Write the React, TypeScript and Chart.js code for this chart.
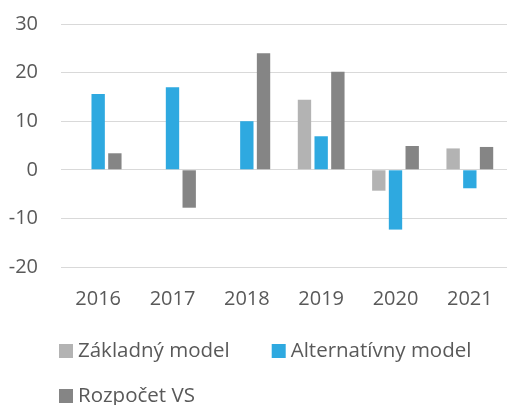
import React, { useEffect, useRef } from "react";
import { Chart, registerables } from "chart.js";

Chart.register(...registerables);

const categories = ["2016", "2017", "2018", "2019", "2020", "2021"];
const zakladnyModel = [null, null, null, 14.4, -4.3, 4.4];
const alternativnyModel = [15.6, 17.0, 10.0, 6.9, -12.3, -3.8];
const rozpocetVS = [3.4, -7.8, 24.0, 20.2, 4.9, 4.7];
const seriesNames = ["Základný model", "Alternatívny model", "Rozpočet VS"];
const yMin = -20;
const yMax = 30;
const yStep = 10;

const FONT = "'Open Sans', 'Noto Sans', sans-serif";
const TEXT = "#595959";
const COLORS = ["#b3b3b3", "#2ea9e0", "#858585"];

const legendPlugin = {
  id: "bottomLegend",
  afterDraw(chart: any) {
    const ctx = chart.ctx as CanvasRenderingContext2D;
    const startX = 59;
    const box = 14;
    const gapText = 5;
    const gapItem = 42;
    const rowH = 45;
    let x = startX;
    let baseY = 357;
    ctx.save();
    ctx.font = `20.5px ${FONT}`;
    ctx.textBaseline = "alphabetic";
    ctx.textAlign = "left";
    chart.data.datasets.forEach((ds: any) => {
      const label = ds.label as string;
      const w = box + gapText + ctx.measureText(label).width;
      if (x > startX && x + w > chart.width) {
        x = startX;
        baseY += rowH;
      }
      ctx.fillStyle = ds.backgroundColor;
      ctx.fillRect(x, baseY - box + 1, box, box);
      ctx.fillStyle = TEXT;
      ctx.fillText(label, x + box + gapText, baseY);
      x += w + gapItem;
    });
    ctx.restore();
  },
};

export default function App() {
  const ref = useRef<HTMLCanvasElement>(null);

  useEffect(() => {
    if (!ref.current) return;
    const chart = new Chart(ref.current, {
      type: "bar",
      data: {
        labels: categories,
        datasets: [
          { label: seriesNames[0], data: zakladnyModel, backgroundColor: COLORS[0] },
          { label: seriesNames[1], data: alternativnyModel, backgroundColor: COLORS[1] },
          { label: seriesNames[2], data: rozpocetVS, backgroundColor: COLORS[2] },
        ],
      },
      options: {
        responsive: false,
        animation: false,
        devicePixelRatio: 1,
        layout: { autoPadding: false, padding: { top: 24, left: 0, right: 0, bottom: 94 } },
        datasets: {
          bar: { categoryPercentage: 0.674, barPercentage: 0.8 },
        },
        plugins: {
          legend: { display: false },
          tooltip: { enabled: false },
        },
        scales: {
          x: {
            grid: { display: false, drawTicks: false },
            border: { display: false },
            ticks: { color: TEXT, font: { family: FONT, size: 20 }, padding: 20 },
            afterFit: (scale: any) => {
              scale.height = 44;
              scale.paddingLeft = 0;
              scale.paddingRight = 0;
            },
          },
          y: {
            min: yMin,
            max: yMax,
            grid: { color: "#d9d9d9", lineWidth: 1, drawTicks: false },
            border: { display: false },
            ticks: {
              stepSize: yStep,
              color: TEXT,
              font: { family: FONT, size: 20 },
              padding: 23,
            },
            afterFit: (scale: any) => {
              scale.width = 61;
              scale.paddingTop = 0;
              scale.paddingBottom = 0;
            },
          },
        },
      },
      plugins: [legendPlugin],
    });
    return () => chart.destroy();
  }, []);

  return (
    <div style={{ position: "fixed", left: 0, top: 0, width: 507, height: 405, overflow: "hidden", background: "#fff" }}>
      <canvas ref={ref} width={507} height={405} style={{ display: "block" }} />
    </div>
  );
}
